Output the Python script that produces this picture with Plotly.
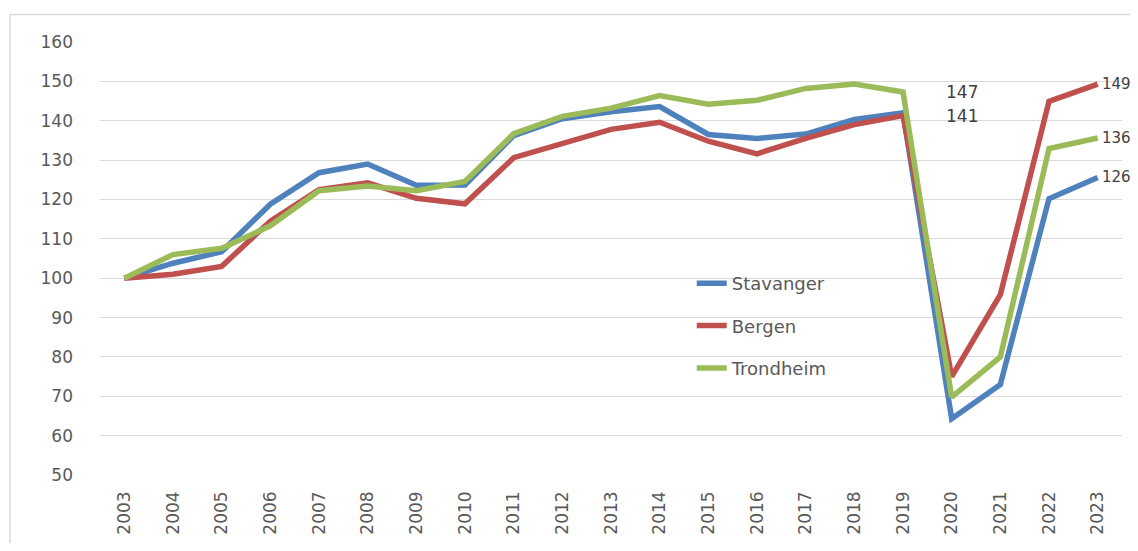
import plotly.graph_objects as go

years = [str(y) for y in range(2003, 2024)]
stavanger = [100, 103.8, 106.7, 118.8, 126.8, 129.0, 123.6, 123.7, 136.2, 140.5, 142.3,
             143.6, 136.5, 135.5, 136.6, 140.3, 142.0, 64.3, 73.0, 120.2, 125.6]
bergen = [100, 101.0, 103.0, 114.5, 122.5, 124.2, 120.3, 118.9, 130.6, 134.1, 137.8,
          139.6, 134.8, 131.6, 135.5, 139.0, 141.3, 75.0, 95.8, 144.9, 149.3]
trondheim = [100, 106.0, 107.6, 113.3, 122.2, 123.4, 122.2, 124.6, 136.7, 141.1, 143.2,
             146.4, 144.2, 145.2, 148.2, 149.3, 147.3, 69.8, 80.0, 132.9, 135.6]
series_names = ["Stavanger", "Bergen", "Trondheim"]
series_values = [stavanger, bergen, trondheim]
colors = ["#4F81BD", "#C0504D", "#9BBB59"]
y_ticks = list(range(50, 161, 10))

FONT = "DejaVu Sans"
GRAY = "#595959"
DARK = "#404040"

fig = go.Figure()
for name, vals, col in zip(series_names, series_values, colors):
    fig.add_trace(go.Scatter(
        x=years, y=vals, name=name, mode="lines",
        line=dict(color=col, width=5.5),
        legendgroup=name,
    ))

last = len(years) - 1
i2019 = years.index("2019")
annotations = []
# end-of-line labels (2023)
for vals in series_values:
    annotations.append(dict(
        x=last, y=vals[last], xref="x", yref="y",
        text=f"{vals[last]:.0f}", showarrow=False,
        xanchor="left", yanchor="middle", xshift=2,
        font=dict(family=FONT, size=15, color=DARK),
    ))
# 2019 labels
for vals in (trondheim, bergen):
    annotations.append(dict(
        x=i2019, y=vals[i2019], xref="x", yref="y",
        text=f"{vals[i2019]:.0f}", showarrow=False,
        xanchor="left", yanchor="middle", xshift=41,
        font=dict(family=FONT, size=17, color=DARK),
    ))

fig.update_layout(
    width=1122, height=535,
    margin=dict(l=92, r=8, t=34, b=61),
    paper_bgcolor="white", plot_bgcolor="white",
    font=dict(family=FONT, size=17, color=GRAY),
    showlegend=True,
    legend=dict(
        x=0.579, y=0.485, xanchor="left", yanchor="top",
        bgcolor="rgba(0,0,0,0)",
        font=dict(family=FONT, size=18, color=GRAY),
        tracegroupgap=16, itemwidth=30,
    ),
    xaxis=dict(
        type="category", range=[-0.5, 20.5],
        tickangle=-90, showgrid=False, showline=False, zeroline=False,
        ticks="", ticklabelstandoff=12,
        tickfont=dict(family=FONT, size=17, color=GRAY),
    ),
    yaxis=dict(
        range=[50, 160], tickvals=y_ticks,
        showgrid=True, gridcolor="#D9D9D9", gridwidth=1,
        zeroline=False, showline=False, ticks="", ticklabelstandoff=26,
        tickfont=dict(family=FONT, size=17, color=GRAY),
    ),
    annotations=annotations,
    shapes=[dict(
        type="rect", xref="paper", yref="paper",
        x0=-0.088, x1=1.2, y0=-0.3, y1=1.0636,
        line=dict(color="#D9D9D9", width=1.5), fillcolor="rgba(0,0,0,0)",
        layer="below",
    )],
)

fig.write_html("out.html")
